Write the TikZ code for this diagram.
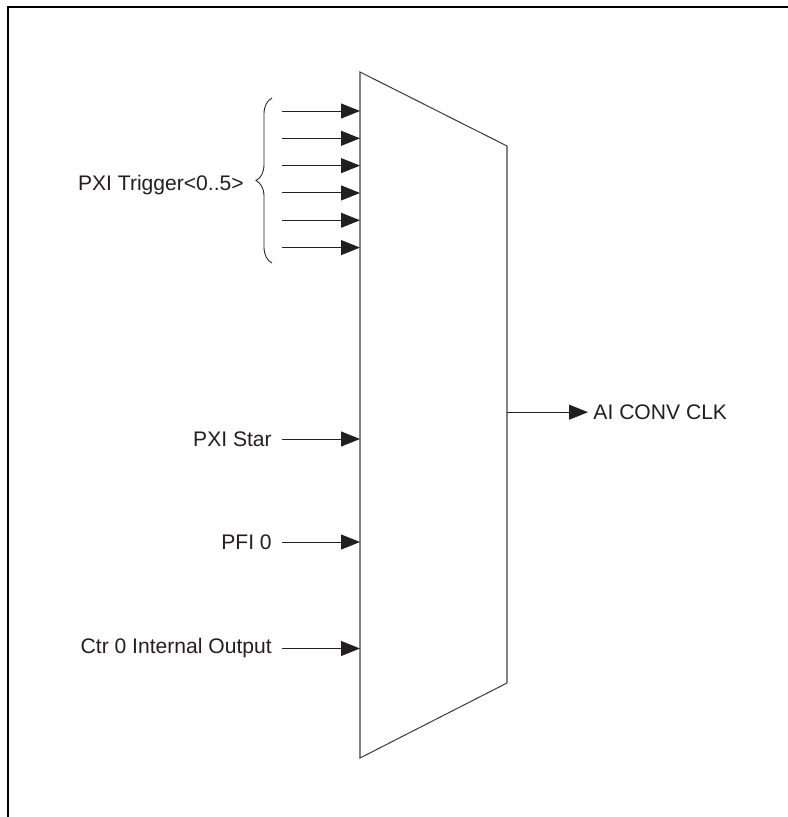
\documentclass[tikz,border=0pt]{standalone}
\usepackage{fontspec}
\setmainfont{Liberation Sans}
\usepackage{tikz}
\usetikzlibrary{decorations.pathreplacing, arrows.meta, positioning, calc}
\definecolor{sigline}{RGB}{35,31,32}
\tikzset{
    sigarrow/.style={
        -{Triangle[length=0.475cm, width=0.375cm]}, line width=0.7pt, sigline
    },
    siglabel/.style={
        font=\fontsize{15}{18}\selectfont, text=sigline, inner sep=0pt
    },
    muxline/.style={
        line width=0.75pt, black!75, line join=miter
    }
}

\begin{document}
\begin{tikzpicture}
    \useasboundingbox (0,0) rectangle (19.7,20.425);

    % --- Frame ---
    \draw[line width=1.4pt, black] (0.19,0) -- (0.19,20.25) -- (19.7,20.25);

    % --- Multiplexer ---
    \coordinate (mux-tl) at (9.0,18.625);
    \coordinate (mux-tr) at (12.675,16.775);
    \coordinate (mux-br) at (12.675,3.35);
    \coordinate (mux-bl) at (9.0,1.475);
    \draw[muxline] (mux-tl) -- (mux-tr) -- (mux-br) -- (mux-bl) -- cycle;

    % --- PXI Trigger lines ---
    \foreach \i in {0,...,5} {
        \coordinate (trig-\i) at (7.05,17.65-0.683*\i);
        \coordinate (in-trig-\i) at (9.0,17.65-0.683*\i);
        \draw[sigarrow] (trig-\i) -- (in-trig-\i);
    }
    \coordinate (brace-lo) at (6.8,13.85);
    \coordinate (brace-hi) at (6.8,17.975);
    \draw[line width=0.6pt, sigline, decorate, decoration={brace, amplitude=0.4cm}]
        (brace-lo) -- (brace-hi);
    \node[siglabel, anchor=east] (trig) at (6.1,15.8) {PXI Trigger<0..5>};

    % --- Other inputs ---
    \node[siglabel, anchor=east] (star) at (6.8,9.45) {PXI Star};
    \node[siglabel, anchor=east] (pfi) at (6.8,6.875) {PFI 0};
    \node[siglabel, anchor=east] (ctr) at (6.8,4.2125) {Ctr 0 Internal Output};
    \coordinate (in-star) at (9.0,9.45);
    \coordinate (in-pfi) at (9.0,6.875);
    \coordinate (in-ctr) at (9.0,4.2125);
    \draw[sigarrow] ([xshift=0.25cm]star.east) -- (in-star);
    \draw[sigarrow] ([xshift=0.25cm]pfi.east) -- (in-pfi);
    \draw[sigarrow] ([xshift=0.25cm]ctr.east) -- (in-ctr);

    % --- Output ---
    \coordinate (out) at (12.675,10.12);
    \node[siglabel, anchor=west] (convclk) at (14.83,10.12) {AI CONV CLK};
    \draw[sigarrow] (out) -- ([xshift=-0.13cm]convclk.west);
\end{tikzpicture}
\end{document}
